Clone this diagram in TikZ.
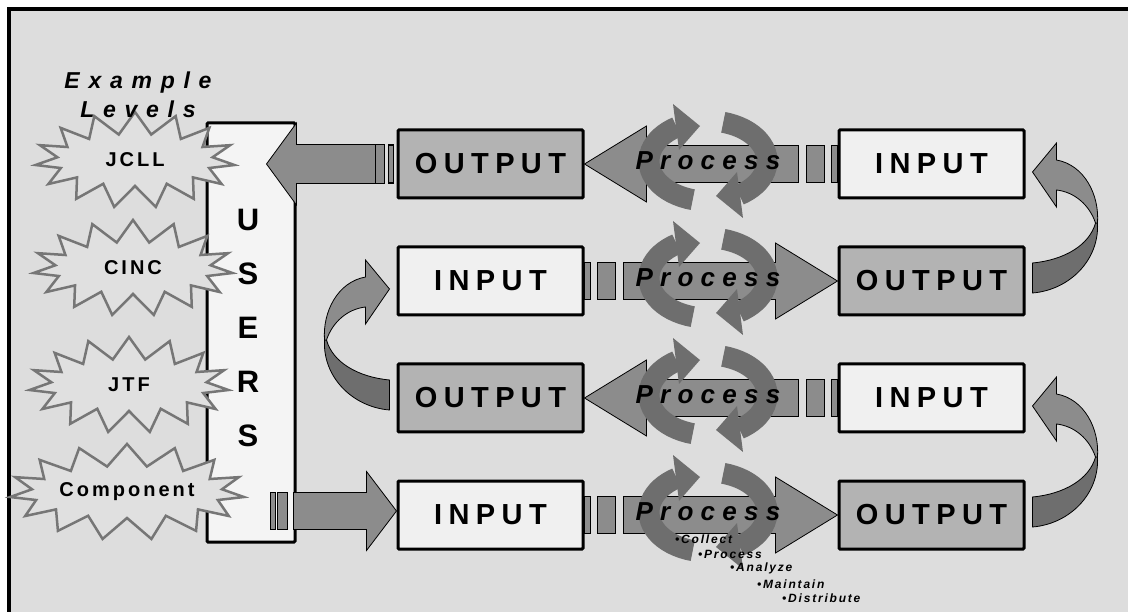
\documentclass[tikz,border=0pt]{standalone}
\usepackage{fontspec}
\setmainfont{Liberation Sans}
\newfontfamily\wideface[LetterSpace=22]{Liberation Sans}
\newfontfamily\burstface[LetterSpace=15]{Liberation Sans}
\newfontfamily\levelface[LetterSpace=38]{Liberation Sans}
\newfontfamily\procface[LetterSpace=28]{Liberation Sans}
\newfontfamily\noteface[LetterSpace=15]{Liberation Sans}
\usetikzlibrary{positioning,shapes.symbols,calc}

\definecolor{panel}{HTML}{DDDDDD}
\definecolor{usersfill}{HTML}{F4F4F4}
\definecolor{infill}{HTML}{F0F0F0}
\definecolor{outfill}{HTML}{B3B3B3}
\definecolor{flowfill}{HTML}{8C8C8C}
\definecolor{turnfill}{HTML}{6E6E6E}
\definecolor{burstfill}{HTML}{E0E0E0}
\definecolor{burstline}{HTML}{767676}

\tikzset{
  inbox/.style={draw, line width=3pt, fill=infill, minimum width=185pt,
    minimum height=68pt, inner sep=0pt, rounded corners=1pt,
    font=\wideface\bfseries\fontsize{29}{30}\selectfont},
  outbox/.style={inbox, fill=outfill},
  usersbar/.style={draw, line width=3pt, fill=usersfill, minimum width=88pt,
    minimum height=419pt, rounded corners=1pt},
  burst/.style={starburst, starburst points=15, starburst point height=22pt,
    random starburst=0, draw=burstline, line width=2.5pt, fill=burstfill,
    minimum width=200pt, minimum height=96pt, inner sep=0pt,
    font=\burstface\bfseries\fontsize{20}{20}\selectfont},
  flowbody/.style={fill=flowfill, draw=black, line width=0.8pt},
  loopturn/.style={draw=turnfill, line width=21pt},
  proc/.style={font=\procface\bfseries\itshape\fontsize{26}{26}\selectfont},
  stepnote/.style={anchor=west, inner sep=0pt,
    font=\noteface\bfseries\itshape\fontsize{12}{12}\selectfont}
}

% block arrow, origin at the tail box, tip 253 further on
\newcommand{\flowshape}{%
  \filldraw[flowbody] (0,-18.5) rectangle (6,18.5);
  \filldraw[flowbody] (13,-18.5) rectangle (31,18.5);
  \filldraw[flowbody] (39,-18.5) -- (191,-18.5) -- (191,-38) -- (253,0)
    -- (191,38) -- (191,18.5) -- (39,18.5) -- cycle;
}
% two turning arrows round the origin
\newcommand{\turnpair}{%
  \draw[loopturn] (0,0) ++(105:59 and 40)
    arc[start angle=105, end angle=238, x radius=59, y radius=40];
  \fill[turnfill] (-35,-57) -- (-8,-35) -- (-29,-11) -- cycle;
  \draw[loopturn] (0,0) ++(-75:59 and 40)
    arc[start angle=-75, end angle=58, x radius=59, y radius=40];
  \fill[turnfill] (35,57) -- (8,35) -- (29,11) -- cycle;
}
% curved return arrow, origin at the box it points to
\newcommand{\bendarrow}{%
  \filldraw[fill=turnfill, draw=black, line width=0.8pt] (7,99)
    .. controls (39,96) and (64,81) .. (70,59) -- (72,59)
    .. controls (74,96) and (44,126) .. (7,129) -- cycle;
  \filldraw[fill=flowfill, draw=black, line width=0.8pt] (70,59)
    .. controls (64,41) and (49,28) .. (31,26) -- (31,43) -- (7,8)
    -- (31,-21) -- (31,-4) .. controls (59,1) and (74,31) .. (72,59) -- cycle;
}

\begin{document}
\begin{tikzpicture}[x=1pt, y=-1pt]
\useasboundingbox (0,0) rectangle (1128,612);
\clip (0,0) rectangle (1128,612);
\fill[white] (0,0) rectangle (1128,612);
\filldraw[fill=panel, draw=black, line width=3.5pt] (9,9) rectangle (1140,625);

% users and levels
\node[usersbar] (users) at (251,332.5) {};
\node[burst] (jcll) at (135,160) {JCLL};
\node[burst] (cinc) at (133,268) {CINC};
\node[burst] (jtf) at (129,385) {JTF};
\node[burst] (comp) at (127,492) {Component};
\node[align=center, font=\levelface\bfseries\itshape\fontsize{23}{29}\selectfont]
  (levels) at (138,95) {Example\\Levels};
\node[align=center, font=\bfseries\fontsize{31}{54}\selectfont]
  (ulabel) at (248,328) {U\\S\\E\\R\\S};

% boxes
\node[outbox] (out1) at (490.5,164) {OUTPUT};
\node[inbox, right=253pt of out1] (in1) {INPUT};
\node[inbox, below=46pt of out1] (in2) {INPUT};
\node[outbox, right=253pt of in2] (out2) {OUTPUT};
\node[outbox, below=46pt of in2] (out3) {OUTPUT};
\node[inbox, right=253pt of out3] (in3) {INPUT};
\node[inbox, below=46pt of out3] (in4) {INPUT};
\node[outbox, right=253pt of in4] (out4) {OUTPUT};

% flows between the boxes
\begin{scope}[shift={(in1.west)}, xscale=-1] \flowshape \end{scope}
\begin{scope}[shift={(in2.east)}] \flowshape \end{scope}
\begin{scope}[shift={(in3.west)}, xscale=-1] \flowshape \end{scope}
\begin{scope}[shift={(in4.east)}] \flowshape \end{scope}

% output back to the users
\begin{scope}[shift={(out1.west)}]
  \filldraw[fill=flowfill, draw=black, line width=1.5pt] (-8,-19) rectangle (-3,19);
  \filldraw[flowbody] (-21,-19.5) rectangle (-12,19.5);
  \filldraw[flowbody] (-21,-19.5) -- (-100,-19.5) -- (-100,-41) -- (-130,0)
    -- (-100,41) -- (-100,19.5) -- (-21,19.5) -- cycle;
\end{scope}
% users into the first input
\begin{scope}[shift={($(in4.west)+(0,-4)$)}]
  \filldraw[flowbody] (-126,-18.5) rectangle (-121,18.5);
  \filldraw[flowbody] (-119,-18.5) rectangle (-109,18.5);
  \filldraw[flowbody] (-103,-18.5) -- (-30,-18.5) -- (-30,-39.5) -- (0,0)
    -- (-30,39.5) -- (-30,18.5) -- (-103,18.5) -- cycle;
\end{scope}

% return arrows
\begin{scope}[shift={(in1.east)}] \bendarrow \end{scope}
\begin{scope}[shift={(in3.east)}] \bendarrow \end{scope}
\begin{scope}[shift={(in2.west)}, xscale=-1] \bendarrow \end{scope}

% process steps
\foreach \o/\i/\n in {out1/in1/p1, in2/out2/p2, out3/in3/p3, in4/out4/p4} {
  \coordinate (\n) at ($(\o.east)!0.5!(\i.west)+(-3,-3)$);
  \begin{scope}[shift={(\n)}] \turnpair \end{scope}
  \node[proc] at (\n) {Process};
}
\node[stepnote] (s1) at (675,539) {•Collect};
\node[stepnote] (s2) at (698,554) {•Process};
\node[stepnote] (s3) at (730,568) {•Analyze};
\node[stepnote] (s4) at (757,584) {•Maintain};
\node[stepnote] (s5) at (782,598) {•Distribute};
\end{tikzpicture}
\end{document}
